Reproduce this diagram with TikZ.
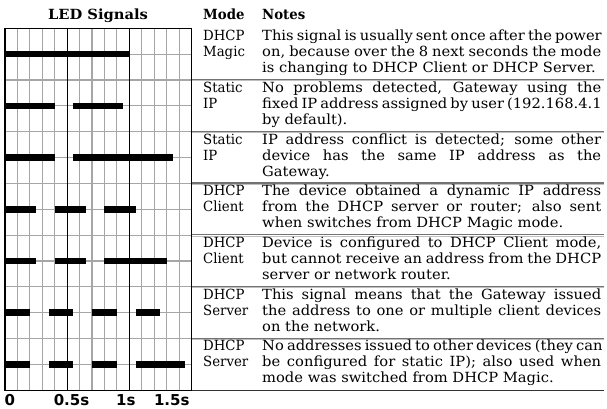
\documentclass[tikz,border=0pt]{standalone}
\usepackage{fontspec}
\setmainfont{DejaVu Serif}[FakeStretch=1.05]
\newfontfamily\modefont{DejaVu Serif}[FakeStretch=0.95]
\newfontfamily\axisfont{DejaVu Sans}
\newcommand{\jl}[1]{\makebox[339pt][s]{#1}}
\begin{document}
\begin{tikzpicture}[x=1pt,y=-1pt,
  minorline/.style={draw=black!35, line width=1.1pt},
  majorline/.style={draw=black, line width=1.3pt},
  ledbar/.style={draw=black, line width=6.6pt},
  sepline/.style={draw=black!55, line width=1.1pt},
  seplight/.style={draw=black!25, line width=0.9pt},
  endline/.style={draw=black!80, line width=1.2pt},
  head/.style={font=\fontsize{14}{16}\selectfont\bfseries, inner sep=0pt},
  modehead/.style={font=\modefont\fontsize{14}{16}\selectfont\bfseries, inner sep=0pt},
  modetxt/.style={font=\modefont\fontsize{14}{16}\selectfont, inner sep=0pt, anchor=base west},
  notetxt/.style={font=\fontsize{14}{16}\selectfont, inner sep=0pt, anchor=base west},
  axislbl/.style={font=\axisfont\fontsize{15}{16}\selectfont\bfseries, inner sep=0pt, anchor=base}
]
\useasboundingbox (0,0) rectangle (607,408);
\def\gx{12.433}
\def\gy{25.857}
\def\xo{5}
\def\yo{28.3}
% grid minor lines
\foreach \c in {1,2,3,4,6,7,8,9,11,12,13,14}
  \draw[minorline] ({\xo+\c*\gx},\yo) -- ({\xo+\c*\gx},{\yo+14*\gy});
\foreach \r in {1,...,13}
  \draw[minorline] (\xo,{\yo+\r*\gy}) -- ({\xo+15*\gx},{\yo+\r*\gy});
% separators on the right
\foreach \k in {1,...,6} {
  \draw[sepline] ({\xo+15*\gx},{\yo+2*\k*\gy-0.4}) -- (604,{\yo+2*\k*\gy-0.4});
  \draw[seplight] ({\xo+15*\gx},{\yo+2*\k*\gy+0.8}) -- (604,{\yo+2*\k*\gy+0.8});
}
\draw[endline] ({\xo+15*\gx},{\yo+14*\gy}) -- (604,{\yo+14*\gy});
% major lines
\foreach \c in {5,10}
  \draw[majorline] ({\xo+\c*\gx},\yo) -- ({\xo+\c*\gx},{\yo+14*\gy});
\draw[majorline] (\xo,\yo) rectangle ({\xo+15*\gx},{\yo+14*\gy});
% LED bars
\foreach \r/\a/\b in {1/0/10, 2/0/4, 2/5.5/9.5, 3/0/4, 3/5.5/13.5,
  4/0/2.5, 4/4/6.5, 4/8/10.5, 5/0/2.5, 5/4/6.5, 5/8/13,
  6/0/2, 6/3.5/5.5, 6/7/9, 6/10.5/12.5, 7/0/2, 7/3.5/5.5, 7/7/9, 7/10.5/14.5}
  \draw[ledbar] ({\xo+\a*\gx},{\yo+(2*\r-1)*\gy}) -- ({\xo+\b*\gx},{\yo+(2*\r-1)*\gy});
% headers
\node[head, anchor=base] (hled) at (98,19.5) {LED Signals};
\node[modehead, anchor=base west] (hmode) at (203,19.5) {Mode};
\node[modehead, anchor=base west] (hnotes) at (262,19.5) {Notes};
% axis labels
\node[axislbl, anchor=base west] (t0) at (4.5,405) {0};
\node[axislbl] (t05) at (71.5,405) {0.5s};
\node[axislbl] (t1) at (125.8,405) {1s};
\node[axislbl] (t15) at (171.8,405) {1.5s};
% rows
\def\rb#1{\yo+#1*2*\gy+12.3}
\node[modetxt] (m1) at (203,{\rb{0}}) {\parbox[t]{55pt}{DHCP\\Magic}};
\node[notetxt] (n1) at (262,{\rb{0}}) {\parbox[t]{339pt}{\jl{This signal is usually sent once after the power}\\\jl{on, because over the 8 next seconds the mode}\\is changing to DHCP Client or DHCP Server.}};
\node[modetxt] (m2) at (203,{\rb{1}}) {\parbox[t]{55pt}{Static\\IP}};
\node[notetxt] (n2) at (262,{\rb{1}}) {\parbox[t]{339pt}{\jl{No problems detected, Gateway using the}\\\jl{fixed IP address assigned by user (192.168.4.1}\\by default).}};
\node[modetxt] (m3) at (203,{\rb{2}}) {\parbox[t]{55pt}{Static\\IP}};
\node[notetxt] (n3) at (262,{\rb{2}}) {\parbox[t]{339pt}{\jl{IP address conflict is detected; some other}\\\jl{device has the same IP address as the}\\Gateway.}};
\node[modetxt] (m4) at (203,{\rb{3}}) {\parbox[t]{55pt}{DHCP\\Client}};
\node[notetxt] (n4) at (262,{\rb{3}}) {\parbox[t]{339pt}{\jl{The device obtained a dynamic IP address}\\\jl{from the DHCP server or router; also sent}\\when switches from DHCP Magic mode.}};
\node[modetxt] (m5) at (203,{\rb{4}}) {\parbox[t]{55pt}{DHCP\\Client}};
\node[notetxt] (n5) at (262,{\rb{4}}) {\parbox[t]{339pt}{\jl{Device is configured to DHCP Client mode,}\\\jl{but cannot receive an address from the DHCP}\\server or network router.}};
\node[modetxt] (m6) at (203,{\rb{5}}) {\parbox[t]{55pt}{DHCP\\Server}};
\node[notetxt] (n6) at (262,{\rb{5}}) {\parbox[t]{339pt}{\jl{This signal means that the Gateway issued}\\\jl{the address to one or multiple client devices}\\on the network.}};
\node[modetxt] (m7) at (203,{\rb{6}}) {\parbox[t]{55pt}{DHCP\\Server}};
\node[notetxt] (n7) at (262,{\rb{6}}) {\parbox[t]{339pt}{\jl{No addresses issued to other devices (they can}\\\jl{be configured for static IP); also used when}\\mode was switched from DHCP Magic.}};
\end{tikzpicture}
\end{document}
